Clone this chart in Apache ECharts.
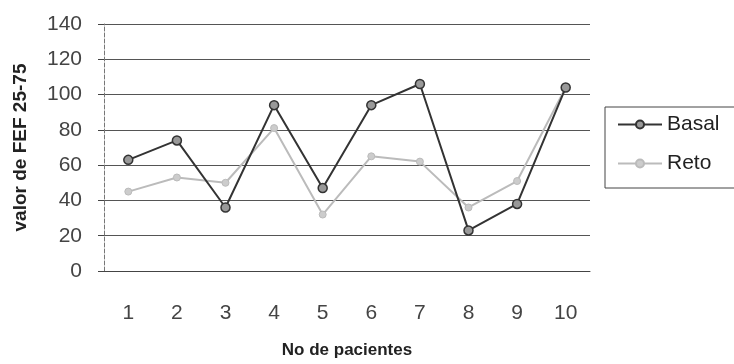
<!DOCTYPE html>
<html><head><meta charset="utf-8">
<script src="https://cdn.jsdelivr.net/npm/echarts@6/dist/echarts.min.js"></script>
<style>html,body{margin:0;padding:0;background:#fff}#c{width:734px;height:364px}</style>
</head><body><div id="c"></div>
<script>
const categories = ['1','2','3','4','5','6','7','8','9','10'];
const basal = [63, 74, 36, 94, 47, 94, 106, 23, 38, 104];
const reto = [45, 53, 50, 81, 32, 65, 62, 36, 51, 104];
const yTicks = [0, 20, 40, 60, 80, 100, 120, 140];

const chart = echarts.init(document.getElementById('c'), null, {renderer: 'canvas'});
chart.setOption({
  animation: false,
  backgroundColor: '#fff',
  grid: {left: 104, width: 486, top: 24, bottom: 91, containLabel: false},
  legend: {
    orient: 'vertical',
    left: 605, top: 107,
    itemGap: 18,
    itemWidth: 44, itemHeight: 10,
    padding: [7, 20, 14, 12],
    borderColor: '#444', borderWidth: 1,
    textStyle: {fontFamily: 'Liberation Sans, Arial', fontSize: 21, color: '#222'},
    data: ['Basal', 'Reto']
  },
  xAxis: {
    type: 'category',
    data: categories,
    boundaryGap: true,
    name: 'No de pacientes',
    nameLocation: 'middle',
    nameGap: 71,
    nameTextStyle: {fontFamily: 'Liberation Sans, Arial', fontSize: 17, fontWeight: 'bold', color: '#222'},
    axisLine: {lineStyle: {color: '#444', width: 1}},
    axisTick: {show: false},
    axisLabel: {fontFamily: 'Liberation Sans, Arial', fontSize: 21, color: '#444', margin: 32}
  },
  yAxis: {
    type: 'value',
    min: 0, max: 140, interval: 20,
    name: 'valor de FEF 25-75',
    nameLocation: 'middle',
    nameGap: 74,
    nameRotate: 90,
    nameTextStyle: {fontFamily: 'Liberation Sans, Arial', fontSize: 19, fontWeight: 'bold', color: '#222'},
    axisLine: {show: true, lineStyle: {color: '#777', width: 1, type: 'dashed'}},
    axisTick: {show: true, inside: false, length: 6, lineStyle: {color: '#444'}},
    axisLabel: {fontFamily: 'Liberation Sans, Arial', fontSize: 21, color: '#444', margin: 22,
      formatter: v => yTicks.includes(v) ? String(v) : ''},
    splitLine: {show: true, lineStyle: {color: '#555', width: 1}}
  },
  series: [
    {
      name: 'Basal', type: 'line', data: basal,
      symbol: 'circle', symbolSize: 9,
      lineStyle: {color: '#333', width: 2},
      itemStyle: {color: '#999', borderColor: '#333', borderWidth: 1.5},
      z: 3
    },
    {
      name: 'Reto', type: 'line', data: reto,
      symbol: 'circle', symbolSize: 7,
      lineStyle: {color: '#bbb', width: 2},
      itemStyle: {color: '#ccc', borderColor: '#bbb', borderWidth: 1},
      z: 2
    }
  ]
});
</script>
</body></html>
